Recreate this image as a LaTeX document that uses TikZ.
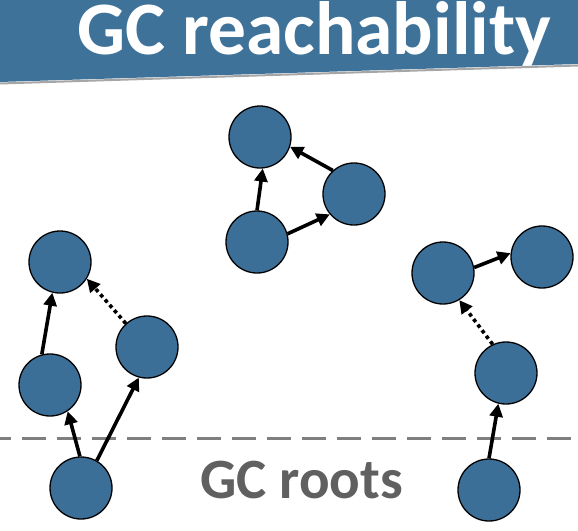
\documentclass[tikz,border=0pt]{standalone}
\usepackage{fontspec}
\setmainfont{Carlito}
\usetikzlibrary{arrows.meta}
\definecolor{nodeblue}{HTML}{3C6F97}
\definecolor{bandblue}{HTML}{3E7299}
\definecolor{rootgray}{HTML}{606060}
\definecolor{linegray}{HTML}{7F7F7F}
\begin{document}
\begin{tikzpicture}[x=1pt,y=-1pt,
  obj/.style={circle,draw=black,line width=1.3pt,fill=nodeblue,minimum size=62pt,inner sep=0pt},
  ref/.style={line width=3.6pt,-{Triangle[length=13pt,width=13pt]}},
  weakref/.style={ref,dash pattern=on 3.6pt off 3.4pt}]
\useasboundingbox (0,0) rectangle (578,530);
% header band
\fill[bandblue] (0,0) -- (578,0) -- (578,64) -- (0,82) -- cycle;
\draw[gray!70,line width=2pt] (0,83.5) -- (578,65.5);
\node[anchor=base west,inner sep=0pt,text=white,font=\fontsize{75.5}{75}\selectfont\bfseries] (title) at (77,54) {GC reachability};
% roots line
\coordinate (dl) at (0,438);
\coordinate (dr) at (578,438);
\draw[linegray,line width=3pt,dash pattern=on 24pt off 11pt,dash phase=13pt] (dl) -- (dr);
\node[anchor=base west,inner sep=0pt,text=rootgray,font=\fontsize{57}{57}\selectfont\bfseries] (roots) at (200,498) {GC roots};
% top triangle
\node[obj] (A) at (260,137) {};
\node[obj] (B) at (354,194) {};
\node[obj] (C) at (257,242) {};
% left group
\node[obj] (L1) at (60,262) {};
\node[obj] (L2) at (50,385) {};
\node[obj] (L3) at (147,347) {};
\node[obj] (L4) at (81,488) {};
% right group
\node[obj] (R1) at (443,273) {};
\node[obj] (R2) at (542,257) {};
\node[obj] (R3) at (506,373) {};
\node[obj] (R4) at (489,490) {};
% references
\draw[ref] (C.90) -- (A.-85);
\draw[ref] (C.15) -- (B.-140);
\draw[ref] (B.132) -- (A.-18);
\draw[ref] (L2.105) -- (L1.-104);
\draw[weakref] (L3.132) -- (L1.-32);
\draw[ref] (L4.92) -- (L2.-56);
\draw[ref] (L4.60) -- (L3.-105);
\draw[ref] (R1.10) -- (R2.173);
\draw[weakref] (R3.115) -- (R1.-59);
\draw[ref] (R4.90) -- (R3.-104);
\end{tikzpicture}
\end{document}
